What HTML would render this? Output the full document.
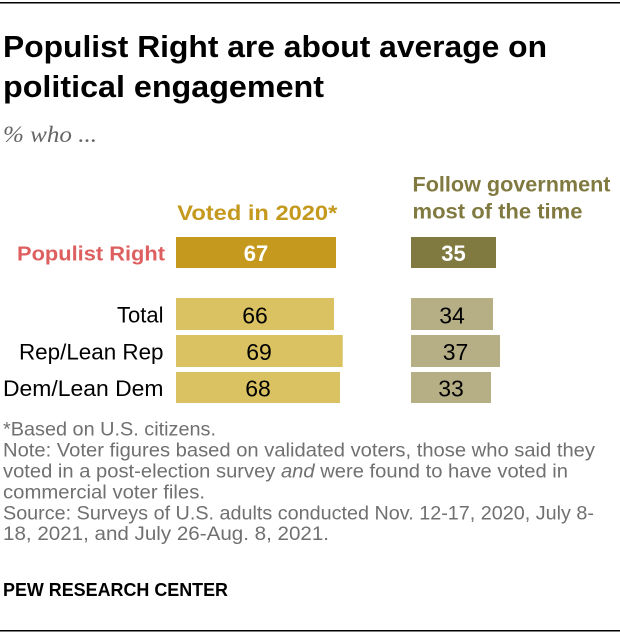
<!DOCTYPE html>
<html>
<head>
<meta charset="utf-8">
<style>
  html,body{margin:0;padding:0;background:#fff;}
  svg{display:block;}
  .b{font-family:"Liberation Sans",Arial,sans-serif;font-weight:bold;}
  .r{font-family:"Liberation Sans",Arial,sans-serif;}
</style>
</head>
<body>
<svg width="620" height="634" viewBox="0 0 620 634" xmlns="http://www.w3.org/2000/svg">
  <rect x="0" y="0" width="620" height="634" fill="#fff"/>
  <!-- top rule -->
  <rect x="0" y="2" width="620" height="1.5" fill="#000"/>

  <!-- title -->
  <text class="b" x="3" y="57" font-size="30.5" fill="#000" textLength="544" lengthAdjust="spacingAndGlyphs">Populist Right are about average on</text>
  <text class="b" x="3" y="97" font-size="30.5" fill="#000" textLength="321" lengthAdjust="spacingAndGlyphs">political engagement</text>
  <text x="3" y="142" font-family="'Liberation Serif',Georgia,serif" font-style="italic" font-size="23" fill="#666" textLength="94" lengthAdjust="spacingAndGlyphs">% who ...</text>

  <!-- column headers -->
  <text class="b" x="177.3" y="220" font-size="21" fill="#C4991E" textLength="160" lengthAdjust="spacingAndGlyphs">Voted in 2020*</text>
  <text class="b" x="412.5" y="191.5" font-size="21" fill="#807A40" textLength="198" lengthAdjust="spacingAndGlyphs">Follow government</text>
  <text class="b" x="412.5" y="218.5" font-size="21" fill="#807A40" textLength="170" lengthAdjust="spacingAndGlyphs">most of the time</text>

  <!-- Populist Right row -->
  <text class="b" x="17" y="260.7" font-size="20.5" fill="#DE5F5F" textLength="148" lengthAdjust="spacingAndGlyphs">Populist Right</text>
  <rect x="176" y="237" width="160" height="31" fill="#C4991E"/>
  <text class="b" x="256" y="261" font-size="22" fill="#fff" text-anchor="middle">67</text>
  <rect x="411" y="237" width="85" height="31" fill="#807A40"/>
  <text class="b" x="453.5" y="261" font-size="22" fill="#fff" text-anchor="middle">35</text>

  <!-- Total -->
  <text class="r" x="163.5" y="322.3" font-size="22" fill="#000" text-anchor="end">Total</text>
  <rect x="176" y="298" width="158" height="32" fill="#DAC262"/>
  <text class="r" x="255" y="323.3" font-size="23" fill="#000" text-anchor="middle">66</text>
  <rect x="411" y="298" width="82" height="32" fill="#B6AF86"/>
  <text class="r" x="452" y="323.3" font-size="23" fill="#000" text-anchor="middle">34</text>

  <!-- Rep -->
  <text class="r" x="163.5" y="359.3" font-size="22" fill="#000" text-anchor="end" textLength="144.5" lengthAdjust="spacingAndGlyphs">Rep/Lean Rep</text>
  <rect x="176" y="335" width="166.7" height="32" fill="#DAC262"/>
  <text class="r" x="259" y="359.8" font-size="23" fill="#000" text-anchor="middle">69</text>
  <rect x="411" y="335" width="89" height="32" fill="#B6AF86"/>
  <text class="r" x="455.5" y="359.8" font-size="23" fill="#000" text-anchor="middle">37</text>

  <!-- Dem -->
  <text class="r" x="163.5" y="396" font-size="22" fill="#000" text-anchor="end" textLength="160.5" lengthAdjust="spacingAndGlyphs">Dem/Lean Dem</text>
  <rect x="176" y="372" width="164" height="31" fill="#DAC262"/>
  <text class="r" x="258" y="396.7" font-size="23" fill="#000" text-anchor="middle">68</text>
  <rect x="411" y="372" width="80" height="31" fill="#B6AF86"/>
  <text class="r" x="451" y="396.7" font-size="23" fill="#000" text-anchor="middle">33</text>

  <!-- footnotes -->
  <g class="r" font-size="19.5" fill="#707070">
    <text x="3" y="435.7" textLength="213" lengthAdjust="spacingAndGlyphs">*Based on U.S. citizens.</text>
    <text x="3" y="456.6" textLength="592" lengthAdjust="spacingAndGlyphs">Note: Voter figures based on validated voters, those who said they</text>
    <text x="3" y="477.5" textLength="565" lengthAdjust="spacingAndGlyphs">voted in a post-election survey <tspan font-style="italic">and</tspan> were found to have voted in</text>
    <text x="3" y="498.4" textLength="202" lengthAdjust="spacingAndGlyphs">commercial voter files.</text>
    <text x="3" y="519.3" textLength="591" lengthAdjust="spacingAndGlyphs">Source: Surveys of U.S. adults conducted Nov. 12-17, 2020, July 8-</text>
    <text x="3" y="540.2" textLength="326" lengthAdjust="spacingAndGlyphs">18, 2021, and July 26-Aug. 8, 2021.</text>
  </g>

  <text class="b" x="3" y="596" font-size="18.5" fill="#000" textLength="225" lengthAdjust="spacingAndGlyphs">PEW RESEARCH CENTER</text>

  <!-- bottom rule -->
  <rect x="0" y="630" width="620" height="1.5" fill="#000"/>
</svg>
</body>
</html>
